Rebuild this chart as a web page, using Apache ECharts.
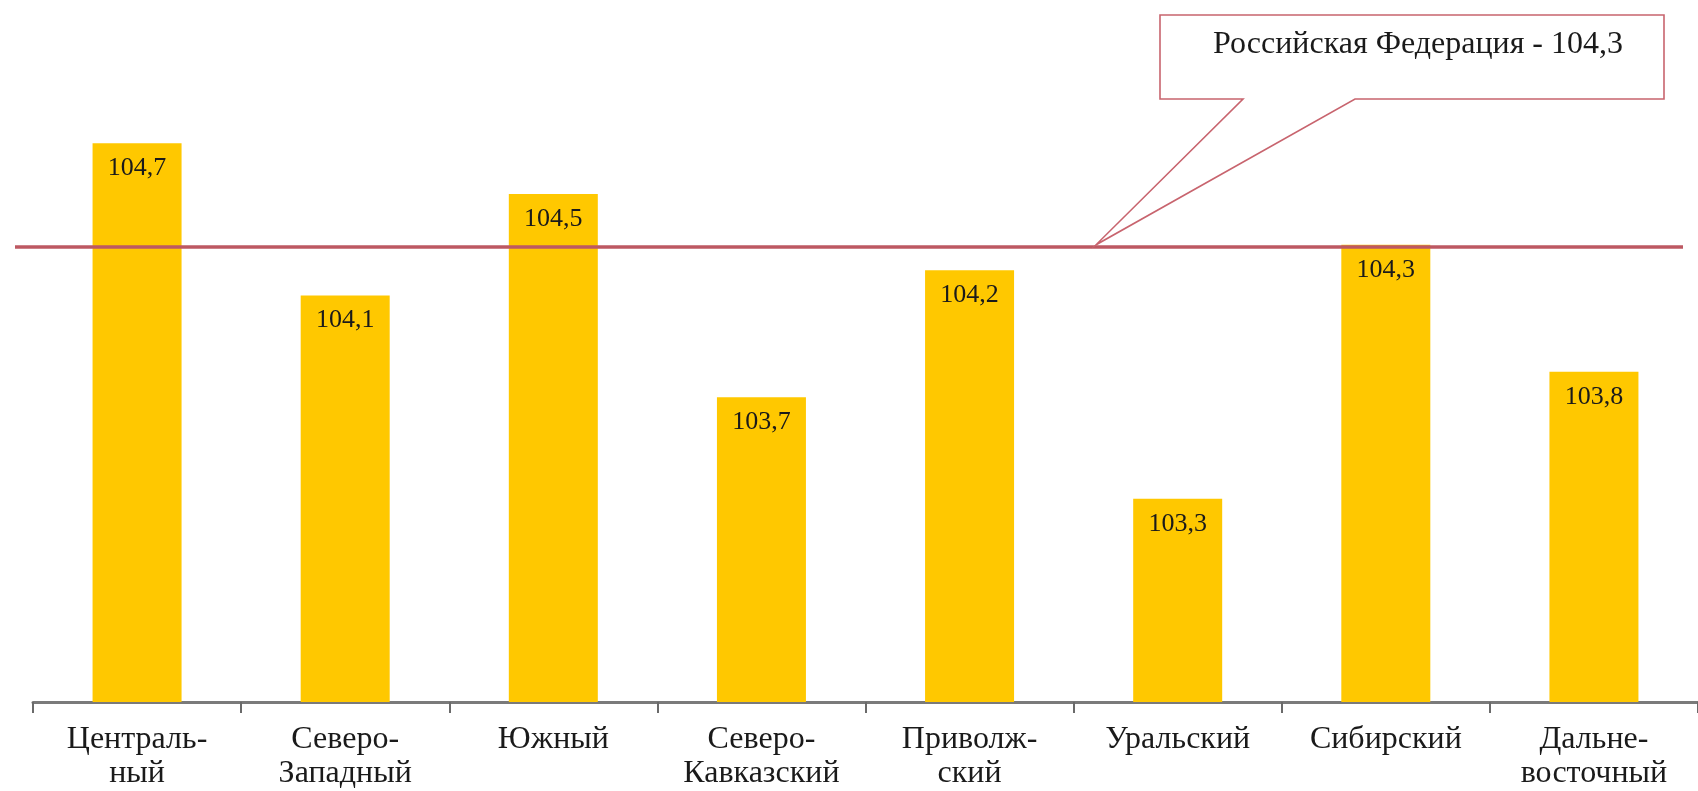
<!DOCTYPE html>
<html>
<head>
<meta charset="utf-8">
<script src="https://cdn.jsdelivr.net/npm/echarts@6/dist/echarts.min.js"></script>
<style>
html,body{margin:0;padding:0;background:#fff;}
#c{width:1698px;height:791px;}
</style>
</head>
<body>
<div id="c"></div>
<script>
const categories = ['Централь-\nный', 'Северо-\nЗападный', 'Южный', 'Северо-\nКавказский', 'Приволж-\nский', 'Уральский', 'Сибирский', 'Дальне-\nвосточный'];
const values = [104.7, 104.1, 104.5, 103.7, 104.2, 103.3, 104.3, 103.8];
const federationValue = 104.3;
const calloutText = 'Российская Федерация - 104,3';

const serif = '"Liberation Serif", "DejaVu Serif", serif';
const fmt = v => String(v).replace('.', ',');

const chart = echarts.init(document.getElementById('c'));
chart.setOption({
  animation: false,
  backgroundColor: '#ffffff',
  grid: [
    {left: 33, top: 67, width: 1668, height: 643},
    {left: 15, top: 67, width: 1668, height: 643}
  ],
  xAxis: [
    {
      type: 'category', gridIndex: 0, data: categories,
      axisLine: {lineStyle: {color: '#7a7a7a', width: 3}},
      axisTick: {show: true, interval: 0, length: 11, lineStyle: {color: '#6a6a6a', width: 2}},
      axisLabel: {interval: 0, margin: 21, color: '#1a1a1a', fontFamily: serif, fontSize: 32, lineHeight: 34}
    },
    {type: 'value', gridIndex: 1, min: 0, max: 1, show: false}
  ],
  yAxis: [
    {type: 'value', gridIndex: 0, min: 102.5, max: 105, show: false, splitLine: {show: false}},
    {type: 'value', gridIndex: 1, min: 102.5, max: 105, show: false, splitLine: {show: false}}
  ],
  series: [
    {
      type: 'bar', xAxisIndex: 0, yAxisIndex: 0, data: values,
      barWidth: 89,
      itemStyle: {color: '#ffc800'},
      label: {
        show: true, position: 'insideTop', distance: 12,
        color: '#1a1a1a', fontFamily: serif, fontSize: 26,
        formatter: p => fmt(p.value)
      },
      z: 2
    },
    {
      type: 'line', xAxisIndex: 1, yAxisIndex: 1,
      data: [[0, federationValue], [1, federationValue]],
      symbol: 'none',
      lineStyle: {color: '#bd5862', width: 3.5},
      z: 3
    }
  ]
});

const tipY = chart.convertToPixel({yAxisIndex: 0}, federationValue);
chart.setOption({
  graphic: [
    {
      type: 'polygon', z: 10,
      shape: {points: [[1160, 15], [1664, 15], [1664, 99], [1355, 99], [1096, tipY], [1243, 99], [1160, 99]]},
      style: {fill: '#ffffff', stroke: '#c8646e', lineWidth: 1.6}
    },
    {
      type: 'text', z: 11, x: 1418, y: 45,
      style: {text: calloutText, fill: '#1a1a1a', font: '32px ' + serif, align: 'center', verticalAlign: 'middle'}
    }
  ]
});
</script>
</body>
</html>
